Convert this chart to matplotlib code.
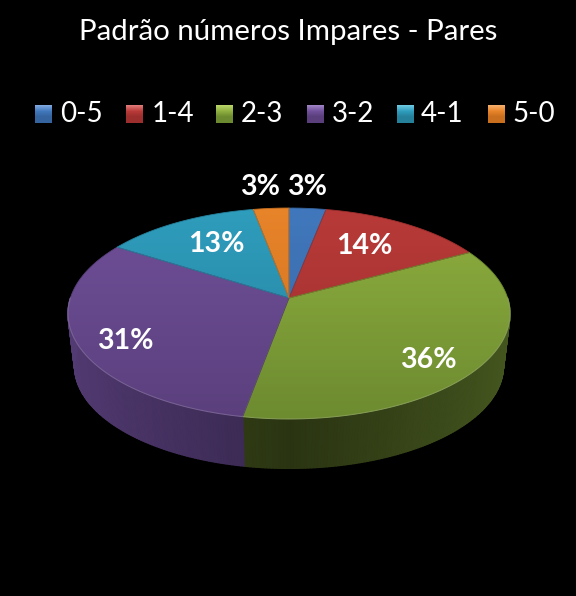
import numpy as np
import matplotlib
matplotlib.use('Agg')
import matplotlib.pyplot as plt
from matplotlib.colors import to_rgb, LinearSegmentedColormap
from matplotlib.patches import Polygon

plt.rcParams['font.family'] = ['Lato', 'DejaVu Sans']

title = 'Padrão números Impares - Pares'
categories = ['0-5', '1-4', '2-3', '3-2', '4-1', '5-0']
values = [3.1, 14.1, 35.7, 31.0, 13.1, 3.0]
labels = ['3%', '14%', '36%', '31%', '13%', '3%']
top_light = ['#4178bd', '#b83a38', '#8fb040', '#70509a', '#2f9dbd', '#e8842a']
top_dark = ['#35649f', '#9c2f2d', '#6c8a2f', '#5a3f7c', '#25809b', '#c96f1e']
swatch_top = ['#7fa8e0', '#e07a78', '#b8d468', '#9f82c4', '#6cc8e0', '#f5ae6a']
side_light = ['#2c4f7c', '#7a2624', '#45571f', '#523a72', '#1c6076', '#9c5618']
side_dark = ['#223d60', '#5c1c1a', '#2a3412', '#38284f', '#154857', '#75400f']
legend_x = [35, 126, 216, 307, 397, 488]
text_x = [60, 152, 241, 332, 421, 512]
label_pos = [(307, 187), (364, 246), (428, 360), (125, 341), (216, 244), (260, 187)]

# pie geometry in pixels, apex of the wedges and tilt
cx, cy = 289, 298
rx, ry = 218.6, 103.2
persp = 0.147
depth = 53
shrink = 0.97


def project(theta, scale=1.0, dy=0.0):
    # theta is clockwise from 12 o'clock
    x, y = np.sin(theta), np.cos(theta)
    k = 1 + persp * y
    return cx + scale * rx * x / k, cy + dy - scale * ry * y / k


fig = plt.figure(figsize=(5.76, 5.96), dpi=100, facecolor='black')
ax = fig.add_axes([0, 0, 1, 1])
ax.set_xlim(0, 576)
ax.set_ylim(596, 0)
ax.axis('off')

edges = np.cumsum([0] + values) / sum(values) * 2 * np.pi

# side wall, only the front half can be seen
for i in range(len(values)):
    lo, hi = max(edges[i], np.pi / 2), min(edges[i + 1], 3 * np.pi / 2)
    if hi <= lo:
        continue
    th = np.linspace(lo, hi, int((hi - lo) * 80) + 2)
    c_a = np.array(to_rgb(side_light[i]))
    c_b = np.array(to_rgb(side_dark[i]))
    for a, b in zip(th[:-1], th[1:]):
        xa, ya = project(a)
        xb, yb = project(b)
        xc, yc = project(b, shrink, depth)
        xd, yd = project(a, shrink, depth)
        # light at the outer side, dark towards the 6 o'clock seam
        t = abs(np.sin((a + b) / 2))
        col = c_b + (c_a - c_b) * t
        ax.add_patch(Polygon([(xa, ya), (xb, yb), (xc, yc), (xd, yd)],
                             facecolor=col, edgecolor=col, lw=1.0))

# top face with a vertical gradient clipped to each wedge
for i in range(len(values)):
    th = np.linspace(edges[i], edges[i + 1], 120)
    xs, ys = project(th)
    verts = [(cx, cy)] + list(zip(xs, ys))
    clip = Polygon(verts, transform=ax.transData, facecolor='none', edgecolor='none')
    ax.add_patch(clip)
    cmap = LinearSegmentedColormap.from_list('w', [top_light[i], top_dark[i]])
    im = ax.imshow(np.linspace(0, 1, 64).reshape(-1, 1), cmap=cmap, aspect='auto',
                   extent=(60, 520, 425, 205), origin='upper', zorder=3)
    im.set_clip_path(clip)
    ax.add_patch(Polygon(verts, closed=True, facecolor='none',
                         edgecolor=top_dark[i], lw=0.6, zorder=4))

# light rim on the front edge
th = np.linspace(np.pi / 2, 3 * np.pi / 2, 200)
xs, ys = project(th)
ax.plot(xs, ys, color='white', alpha=0.18, lw=0.8, zorder=5)

ax.text(288, 32, title, color='white', fontsize=21.2, ha='center', va='center')

for i, cat in enumerate(categories):
    cmap = LinearSegmentedColormap.from_list('l', [swatch_top[i], top_light[i], top_dark[i], top_dark[i]])
    ax.imshow(np.linspace(0, 1, 16).reshape(-1, 1), cmap=cmap, aspect='auto',
              extent=(legend_x[i], legend_x[i] + 17, 123, 105), origin='upper', zorder=3)
    ax.text(text_x[i], 114, cat, color='white', fontsize=20, ha='left', va='center')

for (lx, ly), lab in zip(label_pos, labels):
    ax.text(lx, ly, lab, color='white', fontsize=20.5, fontweight='bold',
            ha='center', va='center', zorder=6)

ax.set_xlim(0, 576)
ax.set_ylim(596, 0)
fig.savefig('out.png', dpi=100, facecolor='black')
